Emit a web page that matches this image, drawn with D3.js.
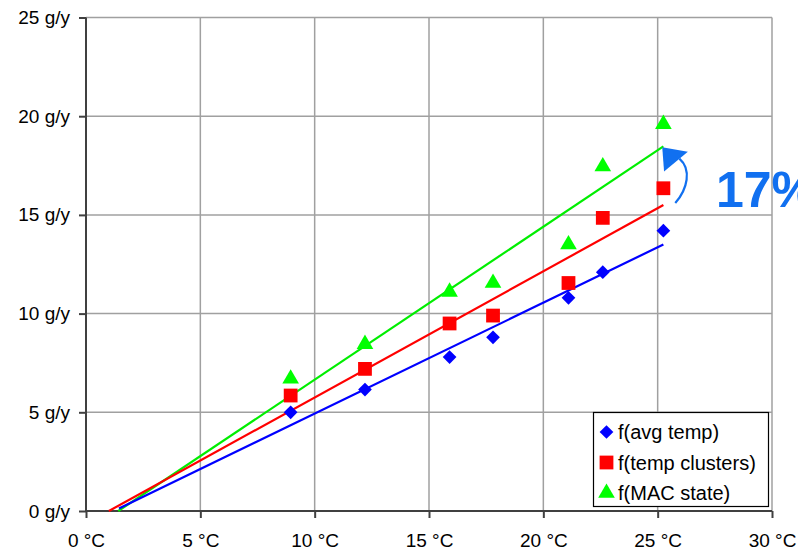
<!DOCTYPE html>
<html>
<head>
<meta charset="utf-8">
<script src="https://cdn.jsdelivr.net/npm/d3@7"></script>
<style>
  body { margin: 0; background: #fff; }
  svg { display: block; font-family: "Liberation Sans", Arial, sans-serif; }
</style>
</head>
<body>
<div id="chart"></div>
<script>
// data
const temps = [8.95, 12.2, 15.9, 17.8, 21.1, 22.6, 25.25];
const avgTemp = [5.0, 6.15, 7.8, 8.8, 10.8, 12.1, 14.2];
const tempClusters = [5.85, 7.2, 9.5, 9.9, 11.55, 14.85, 16.35];
const macState = [6.7, 8.45, 11.1, 11.55, 13.5, 17.45, 19.6];

// trend lines: [x start, y start, x end, y end]
const trendAvg = [1.44, 0.13, 25.25, 13.5];
const trendClusters = [1.0, 0.0, 25.25, 15.5];
const trendMac = [1.41, 0.0, 25.25, 18.47];

const seriesNames = ["f(avg temp)", "f(temp clusters)", "f(MAC state)"];
const xTicks = [0, 5, 10, 15, 20, 25, 30];
const yTicks = [0, 5, 10, 15, 20, 25];

const W = 798, H = 552;
const margin = {top: 17.5, right: 26, bottom: 41, left: 86};

const svg = d3.select("#chart")
  .append("svg")
  .attr("width", W)
  .attr("height", H);

const x = d3.scaleLinear().domain([0, 30]).range([margin.left, W - margin.right]);
const y = d3.scaleLinear().domain([0, 25]).range([H - margin.bottom, margin.top]);

// grid
svg.append("g")
  .selectAll("line")
  .data(xTicks.slice(1))
  .join("line")
  .attr("x1", d => x(d)).attr("x2", d => x(d))
  .attr("y1", y(0)).attr("y2", y(25))
  .attr("stroke", "#a0a0a0").attr("stroke-width", 1.5);

svg.append("g")
  .selectAll("line")
  .data(yTicks.slice(1))
  .join("line")
  .attr("x1", x(0)).attr("x2", x(30))
  .attr("y1", d => y(d)).attr("y2", d => y(d))
  .attr("stroke", "#a0a0a0").attr("stroke-width", 1.5);

// axes
const xAxis = svg.append("g")
  .attr("transform", `translate(0, ${y(0)})`)
  .call(d3.axisBottom(x).tickValues(xTicks).tickSize(7).tickPadding(16).tickFormat(d => d + " °C"));
const yAxis = svg.append("g")
  .attr("transform", `translate(${x(0)}, 0)`)
  .call(d3.axisLeft(y).tickValues(yTicks).tickSize(7).tickPadding(9).tickFormat(d => d + " g/y"));

[xAxis, yAxis].forEach(a => {
  a.select(".domain").attr("stroke", "#404040").attr("stroke-width", 2);
  a.selectAll(".tick line").attr("stroke", "#404040").attr("stroke-width", 2);
  a.selectAll(".tick text")
    .attr("fill", "#000")
    .style("font-size", "19px")
    .style("font-family", "Liberation Sans, Arial, sans-serif");
});
xAxis.select(".domain").attr("d", `M${x(0)},0H${x(30)}`);
yAxis.select(".domain").attr("d", `M0,${y(0)}V${y(25)}`);

// trend lines
const trends = [
  {t: trendAvg, color: "#0000ff"},
  {t: trendClusters, color: "#ff0000"},
  {t: trendMac, color: "#00ee00"}
];
// draw green first so red sits on top near the origin, as in the picture
[trends[2], trends[0], trends[1]].forEach(d => {
  svg.append("line")
    .attr("x1", x(d.t[0])).attr("y1", y(d.t[1]))
    .attr("x2", x(d.t[2])).attr("y2", y(d.t[3]))
    .attr("stroke", d.color).attr("stroke-width", 2.2);
});

// markers
const diamond = d3.symbol().type(d3.symbolDiamond2).size(120);
const square = d3.symbol().type(d3.symbolSquare).size(190);
const triangle = d3.symbol().type(d3.symbolTriangle).size(120);

svg.append("g")
  .selectAll("path")
  .data(temps.map((t, i) => [t, avgTemp[i]]))
  .join("path")
  .attr("d", diamond)
  .attr("transform", d => `translate(${x(d[0])}, ${y(d[1])})`)
  .attr("fill", "#0000ff");

svg.append("g")
  .selectAll("path")
  .data(temps.map((t, i) => [t, tempClusters[i]]))
  .join("path")
  .attr("d", square)
  .attr("transform", d => `translate(${x(d[0])}, ${y(d[1])})`)
  .attr("fill", "#ff0000");

svg.append("g")
  .selectAll("path")
  .data(temps.map((t, i) => [t, macState[i]]))
  .join("path")
  .attr("d", triangle)
  .attr("transform", d => `translate(${x(d[0])}, ${y(d[1])})`)
  .attr("fill", "#00ff00");

// legend
const legend = svg.append("g").attr("transform", "translate(593.5, 412.5)");
legend.append("rect")
  .attr("width", 175).attr("height", 94)
  .attr("fill", "#fff").attr("stroke", "#000").attr("stroke-width", 1.2);
const shapes = [[diamond, "#0000ff"], [square, "#ff0000"], [triangle, "#00ff00"]];
seriesNames.forEach((name, i) => {
  const row = legend.append("g").attr("transform", `translate(0, ${19.5 + i * 30.5})`);
  row.append("path")
    .attr("d", shapes[i][0])
    .attr("transform", "translate(13, 0)")
    .attr("fill", shapes[i][1]);
  row.append("text")
    .attr("x", 24.5).attr("y", 0).attr("dy", "0.36em")
    .style("font-size", "20px")
    .text(name);
});

// annotation arrow and label (the label runs off the right edge, as in the original)
const blue = "#1170f0";
svg.append("path")
  .attr("d", `M${x(25.77)},${y(15.6)} C${x(26.3)},${y(16.3)} ${x(26.5)},${y(17.3)} ${x(25.95)},${y(17.85)}`)
  .attr("fill", "none").attr("stroke", blue).attr("stroke-width", 2.2);
svg.append("path")
  .attr("d", `M${x(25.2)},${y(18.43)} L${x(26.32)},${y(18.2)} L${x(25.28)},${y(17.2)} Z`)
  .attr("fill", blue);
svg.append("text")
  .attr("x", 716).attr("y", 206.5)
  .attr("fill", blue)
  .style("font-size", "50px").style("font-weight", "bold")
  .text("17%");
</script>
</body>
</html>
